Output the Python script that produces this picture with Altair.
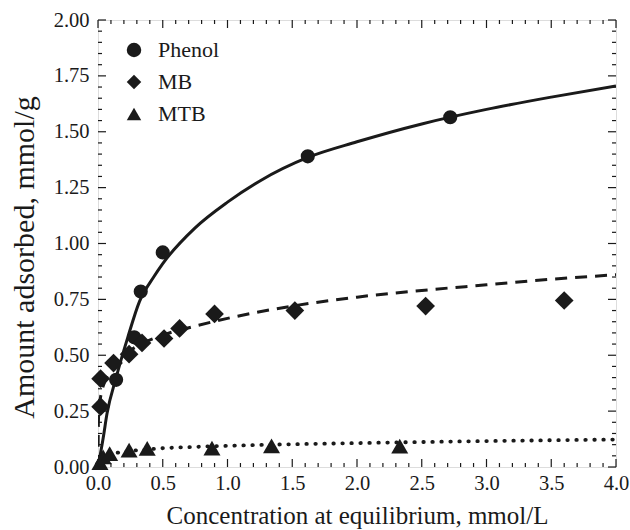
import altair as alt
import pandas as pd

phenol_x = [0.14, 0.28, 0.33, 0.50, 1.62, 2.72]
phenol_y = [0.39, 0.58, 0.785, 0.96, 1.39, 1.565]
mb_x = [0.02, 0.02, 0.12, 0.24, 0.34, 0.51, 0.63, 0.90, 1.52, 2.53, 3.60]
mb_y = [0.395, 0.27, 0.465, 0.505, 0.555, 0.575, 0.62, 0.685, 0.70, 0.72, 0.745]
mtb_x = [0.015, 0.04, 0.09, 0.24, 0.38, 0.88, 1.34, 2.33]
mtb_y = [0.02, 0.045, 0.06, 0.075, 0.083, 0.084, 0.095, 0.093]

# ---- fitted curves ----
phenol_fit_x = [0.0, 0.04, 0.07, 0.14, 0.23, 0.32, 0.43, 0.5, 0.75, 1.0, 1.25, 1.62, 2.0, 2.5, 3.0, 3.5, 4.0]
phenol_fit_y = [0.0, 0.13, 0.24, 0.40, 0.58, 0.74, 0.85, 0.91, 1.07, 1.185, 1.28, 1.385, 1.455, 1.535, 1.60, 1.655, 1.705]
mb_fit_x = [0.0, 0.003, 0.01, 0.03, 0.06, 0.1, 0.2, 0.3, 0.5, 0.75, 1.0, 1.5, 2.0, 2.5, 3.0, 3.5, 4.0]
mb_fit_y = [0.0, 0.20, 0.27, 0.34, 0.39, 0.43, 0.50, 0.54, 0.59, 0.63, 0.665, 0.72, 0.76, 0.79, 0.815, 0.84, 0.86]
mtb_fit_x = [0.0, 0.005, 0.02, 0.05, 0.1, 0.2, 0.4, 0.8, 1.2, 2.0, 3.0, 4.0]
mtb_fit_y = [0.0, 0.02, 0.035, 0.048, 0.058, 0.068, 0.08, 0.091, 0.098, 0.107, 0.116, 0.123]

series_names = ["Phenol", "MB", "MTB"]
series_shapes = ["circle", "diamond", "triangle-up"]
series_sizes = [200, 350, 290]

x_ticks = [0.0, 0.5, 1.0, 1.5, 2.0, 2.5, 3.0, 3.5, 4.0]
y_ticks = [0.0, 0.25, 0.5, 0.75, 1.0, 1.25, 1.5, 1.75, 2.0]
x_minor = [i / 10 for i in range(41) if i % 5 != 0]
y_minor = [i / 20 for i in range(41) if i % 5 != 0]

W, H = 518, 447
FONT = "Liberation Serif"
INK = "#1a1a1a"

xs = alt.Scale(domain=[0, 4], nice=False, zero=False)
ys = alt.Scale(domain=[0, 2], nice=False, zero=False)

xaxis = alt.Axis(values=x_ticks, format=".1f", title="Concentration at equilibrium, mmol/L",
                 ticks=False, domain=False, grid=False, labelFont=FONT, labelFontSize=20.5,
                 labelColor=INK, labelPadding=6, labelFlush=False, labelOverlap=False,
                 titleFont=FONT, titleFontSize=25, titleFontWeight="normal", titleColor=INK,
                 titleY=56, titleBaseline="alphabetic")
yaxis = alt.Axis(values=y_ticks, format=".2f", title="Amount adsorbed, mmol/g",
                 ticks=False, domain=False, grid=False, labelFont=FONT, labelFontSize=20.5,
                 labelColor=INK, labelPadding=9, labelFlush=False, labelOverlap=False,
                 titleFont=FONT, titleFontSize=30, titleFontWeight="normal", titleColor=INK,
                 titleX=-74, titleY=237, titleBaseline="middle", titleAlign="center", titleAngle=270)

legend = alt.Legend(title=None, orient="none", legendX=25, legendY=19,
                    labelFont=FONT, labelFontSize=22, labelColor=INK,
                    symbolSize=210, symbolFillColor=INK, symbolStrokeColor=INK,
                    labelOffset=13, rowPadding=10, padding=0)
shape_scale = alt.Scale(domain=series_names, range=series_shapes)


def curve(xv, yv, **kw):
    df = pd.DataFrame({"c": xv, "q": yv})
    return alt.Chart(df).mark_line(color=INK, clip=True, interpolate="monotone", **kw).encode(
        x=alt.X("c:Q", scale=xs, axis=xaxis),
        y=alt.Y("q:Q", scale=ys, axis=yaxis),
    )


def scatter(name, xv, yv, size):
    df = pd.DataFrame({"c": xv, "q": yv, "s": [name] * len(xv)})
    return alt.Chart(df).mark_point(filled=True, opacity=1, color=INK, size=size).encode(
        x=alt.X("c:Q", scale=xs),
        y=alt.Y("q:Q", scale=ys),
        shape=alt.Shape("s:N", scale=shape_scale, legend=legend),
    )


l_phenol = curve(phenol_fit_x, phenol_fit_y, strokeWidth=3)
l_mb = curve(mb_fit_x, mb_fit_y, strokeWidth=3, strokeDash=[12, 8])
l_mtb = curve(mtb_fit_x, mtb_fit_y, strokeWidth=3.8, strokeDash=[0.5, 8.5], strokeCap="round")

p_phenol = scatter("Phenol", phenol_x, phenol_y, series_sizes[0])
p_mb = scatter("MB", mb_x, mb_y, series_sizes[1])
p_mtb = scatter("MTB", mtb_x, mtb_y, series_sizes[2])


def tick_rules(vals, axis, length):
    df = pd.DataFrame({"v": vals})
    base = alt.Chart(df).mark_rule(color=INK, strokeWidth=1.2)
    if axis == "x":
        bot = base.encode(x=alt.X("v:Q", scale=xs), y=alt.value(H), y2=alt.value(H - length))
        top = base.encode(x=alt.X("v:Q", scale=xs), y=alt.value(0), y2=alt.value(length))
        return [bot, top]
    left = base.encode(y=alt.Y("v:Q", scale=ys), x=alt.value(0), x2=alt.value(length))
    right = base.encode(y=alt.Y("v:Q", scale=ys), x=alt.value(W), x2=alt.value(W - length))
    return [left, right]


ticks = (tick_rules(x_ticks, "x", 8) + tick_rules(x_minor, "x", 4)
         + tick_rules(y_ticks, "y", 8) + tick_rules(y_minor, "y", 4))

chart = alt.layer(l_phenol, l_mb, l_mtb, p_phenol, p_mb, p_mtb, *ticks).properties(
    width=W, height=H,
    autosize=alt.AutoSizeParams(type="none"),
    padding={"left": 98, "top": 20, "right": 14, "bottom": 63},
).configure_view(stroke=INK, strokeWidth=1.5).configure(background="white")

chart.save("out.html", embed_options={"renderer": "svg", "actions": False})
